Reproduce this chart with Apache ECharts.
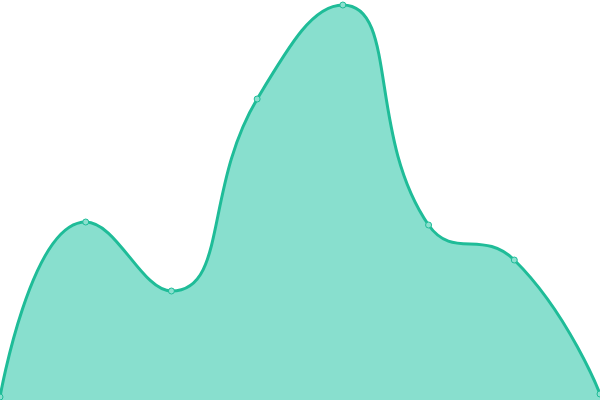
<!DOCTYPE html>
<html><head><meta charset="utf-8">
<script src="https://cdn.jsdelivr.net/npm/echarts@6/dist/echarts.min.js"></script>
<style>html,body{margin:0;padding:0;background:#fff}#c{width:600px;height:400px}</style>
</head><body><div id="c"></div>
<script>
var categories = ['1','2','3','4','5','6','7','8'];
var values = [3, 178, 109, 301, 395, 175, 140, 6];
var chart = echarts.init(document.getElementById('c'));
chart.setOption({
  animation: false,
  grid: {left: 0, right: 0, top: 0, bottom: 0},
  xAxis: {type: 'category', data: categories, boundaryGap: false, show: false},
  yAxis: {type: 'value', min: 0, max: 400, show: false},
  series: [{
    type: 'line',
    data: values,
    smooth: true,
    symbol: 'circle',
    symbolSize: 6,
    itemStyle: {color: '#8be0cf', borderColor: '#1fbc98', borderWidth: 1},
    lineStyle: {color: '#1fbc98', width: 3},
    areaStyle: {color: '#88dfce', opacity: 1}
  }]
});
</script></body></html>
